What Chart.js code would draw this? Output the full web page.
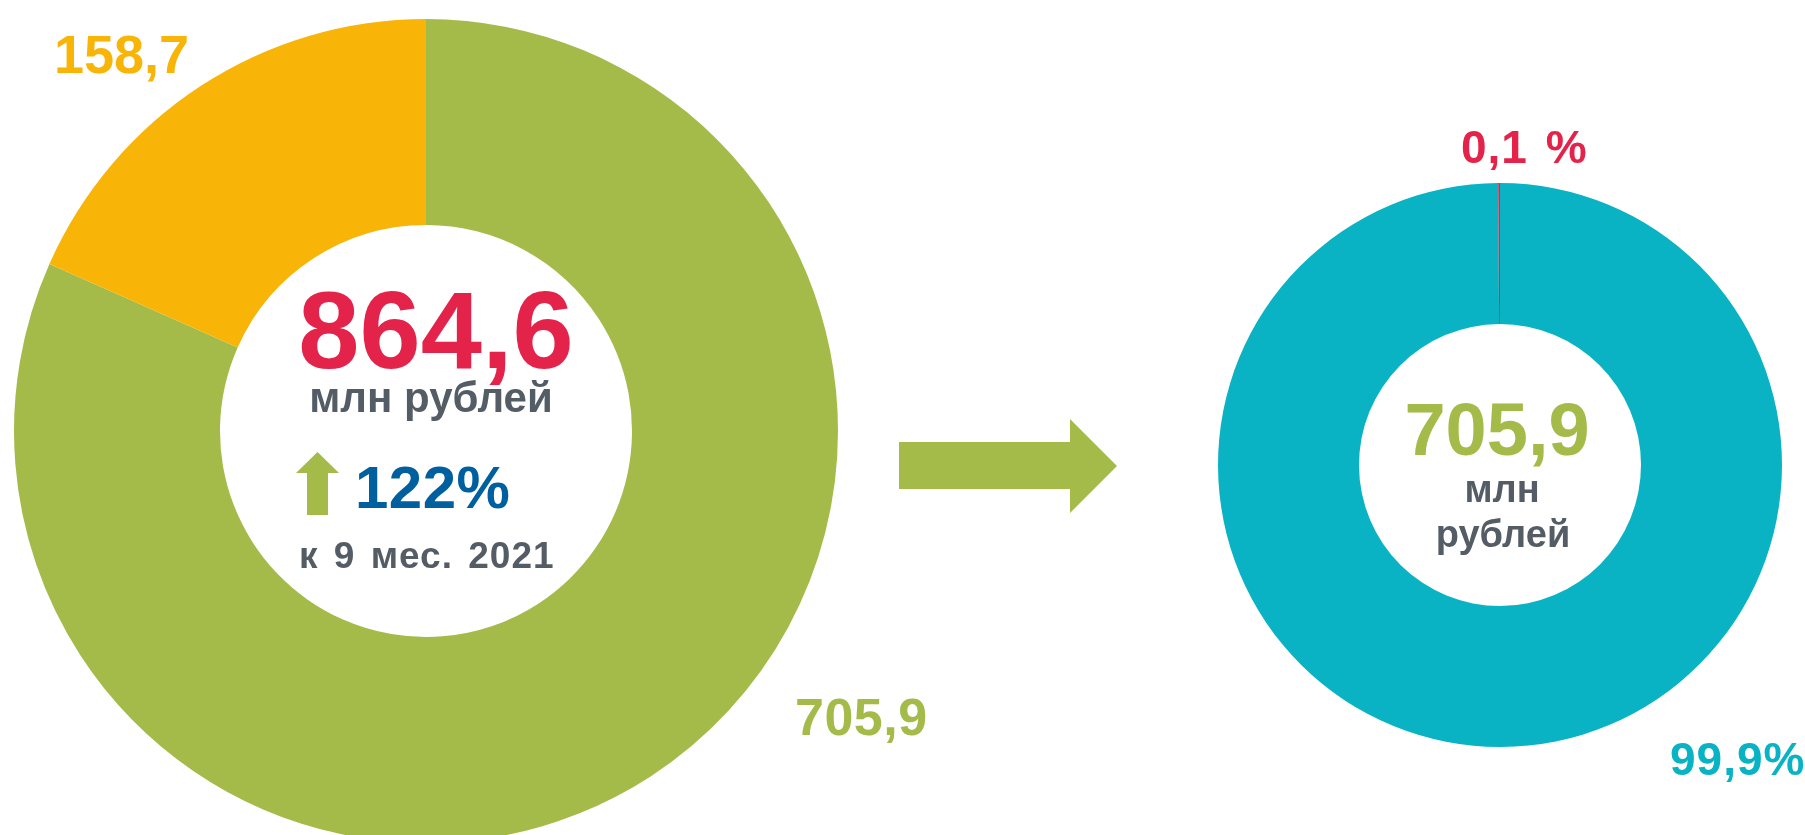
<!DOCTYPE html>
<html>
<head>
<meta charset="utf-8">
<script src="https://cdn.jsdelivr.net/npm/chart.js@4"></script>
<style>
  html, body { margin: 0; padding: 0; background: #ffffff; overflow: hidden; width: 1805px; height: 835px; }
  canvas { position: absolute; left: 0; top: 0; }
</style>
</head>
<body>
<canvas id="left" width="1805" height="835"></canvas>
<canvas id="right" width="1805" height="835"></canvas>
<script>
// ---- data ----
const leftCategories = ['705,9', '158,7'];
const leftValues = [705.9, 158.7];
const rightCategories = ['99,9%', '0,1 %'];
const rightValues = [99.9, 0.1];
const growthText = '122%';
const periodText = 'к 9 мес. 2021';
const unitText = 'млн рублей';

// ---- styles ----
const GREEN = '#A4BB4A';
const YELLOW = '#F8B508';
const TEAL = '#0AB3C4';
const RED = '#E4234A';
const BLUE = '#005F9F';
const GRAY = '#545C66';
const FONT = '"Liberation Sans", Arial, sans-serif';

const fmt = v => v.toFixed(1).replace('.', ',');
const sum = a => a.reduce((s, v) => s + v, 0);

function txt(ctx, s, x, y, size, color, align, wordSp, letterSp) {
  ctx.save();
  ctx.font = 'bold ' + size + 'px ' + FONT;
  ctx.fillStyle = color;
  ctx.textAlign = align || 'center';
  ctx.textBaseline = 'alphabetic';
  if (wordSp) ctx.wordSpacing = wordSp + 'px';
  if (letterSp) ctx.letterSpacing = letterSp + 'px';
  ctx.fillText(s, x, y);
  ctx.restore();
}

const leftDeco = {
  id: 'leftDeco',
  afterDraw(chart) {
    const ctx = chart.ctx;
    const arc = chart.getDatasetMeta(0).data[0];
    const cx = arc.x, cy = arc.y;
    // center texts
    txt(ctx, fmt(sum(leftValues)), cx + 10, cy - 63, 110, RED);
    txt(ctx, unitText, cx + 5, cy - 19, 42, GRAY);
    // small up arrow
    ctx.save();
    ctx.fillStyle = GREEN;
    ctx.beginPath();
    ctx.moveTo(cx - 108.5, cy + 21);
    ctx.lineTo(cx - 87, cy + 42);
    ctx.lineTo(cx - 98, cy + 42);
    ctx.lineTo(cx - 98, cy + 84);
    ctx.lineTo(cx - 119, cy + 84);
    ctx.lineTo(cx - 119, cy + 42);
    ctx.lineTo(cx - 130, cy + 42);
    ctx.closePath();
    ctx.fill();
    ctx.restore();
    txt(ctx, growthText, cx - 71, cy + 77, 60, BLUE, 'left', 0, 0.5);
    txt(ctx, periodText, 299, cy + 137, 37, GRAY, 'left', 4, 1);
    // segment labels
    txt(ctx, fmt(leftValues[1]), 54, 73, 54, YELLOW, 'left');
    txt(ctx, fmt(leftValues[0]), 795, 735, 52, GREEN, 'left', 0, 0.5);
    // big right arrow
    ctx.save();
    ctx.fillStyle = GREEN;
    ctx.beginPath();
    ctx.moveTo(899, 442);
    ctx.lineTo(1070, 442);
    ctx.lineTo(1070, 419);
    ctx.lineTo(1117, 466);
    ctx.lineTo(1070, 513);
    ctx.lineTo(1070, 489);
    ctx.lineTo(899, 489);
    ctx.closePath();
    ctx.fill();
    ctx.restore();
  }
};

const rightDeco = {
  id: 'rightDeco',
  afterDraw(chart) {
    const ctx = chart.ctx;
    const arc = chart.getDatasetMeta(0).data[0];
    const cx = arc.x, cy = arc.y;
    txt(ctx, fmt(leftValues[0]), cx - 3, cy - 10, 74, GREEN);
    txt(ctx, 'млн', cx + 2, cy + 37, 38, GRAY);
    txt(ctx, 'рублей', cx + 3, cy + 82, 38, GRAY);
    txt(ctx, rightCategories[1], 1461, 163, 46, RED, 'left', 4, 1);
    txt(ctx, rightCategories[0], 1670, 775, 46, TEAL, 'left', 0, 1);
  }
};

const common = {
  responsive: false,
  animation: false,
  events: [],
  plugins: { legend: { display: false }, tooltip: { enabled: false } }
};

new Chart(document.getElementById('left'), {
  type: 'doughnut',
  data: {
    labels: leftCategories,
    datasets: [{ data: leftValues, backgroundColor: [GREEN, YELLOW], borderWidth: 0, clip: false }]
  },
  options: Object.assign({}, common, {
    radius: 412,
    cutout: '50%',
    layout: { padding: { left: 0, top: 27, right: 953, bottom: 0 } }
  }),
  plugins: [leftDeco]
});

new Chart(document.getElementById('right'), {
  type: 'doughnut',
  data: {
    labels: rightCategories,
    datasets: [{ data: rightValues, backgroundColor: [TEAL, RED], borderWidth: 0, clip: false }]
  },
  options: Object.assign({}, common, {
    radius: 282,
    cutout: '50%',
    layout: { padding: { left: 1218, top: 183, right: 23, bottom: 88 } }
  }),
  plugins: [rightDeco]
});
</script>
</body>
</html>
